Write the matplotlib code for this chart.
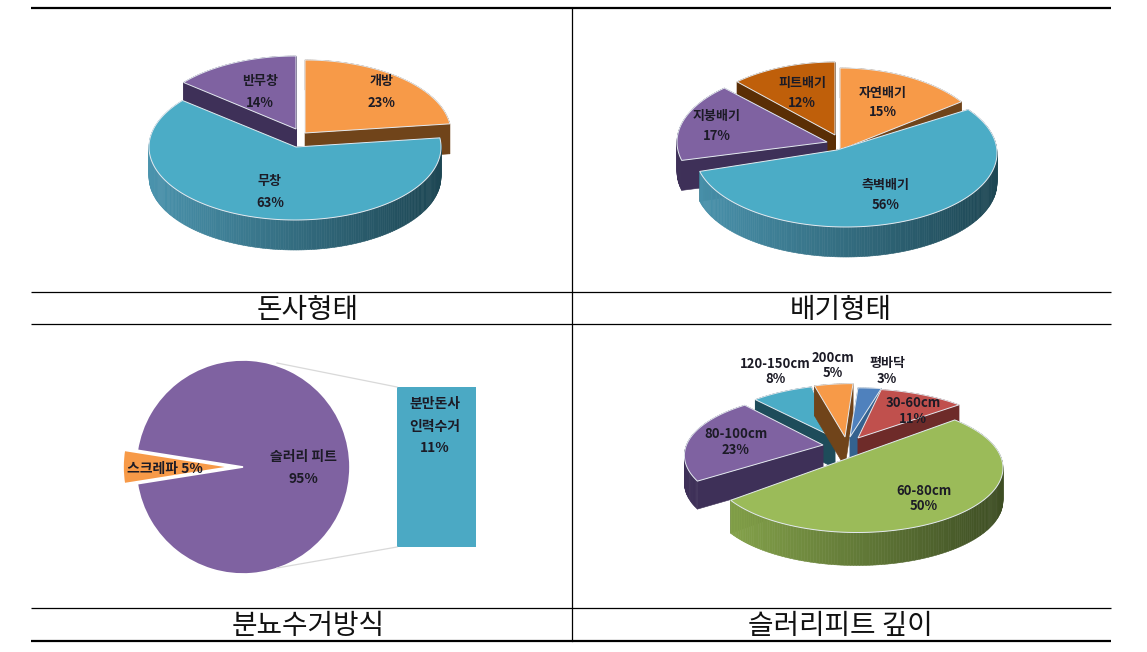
import numpy as np
import matplotlib
matplotlib.use("Agg")
import matplotlib.pyplot as plt
from matplotlib.collections import PolyCollection
from matplotlib.patches import Polygon

plt.rcParams['font.family'] = ['Noto Sans CJK KR', 'DejaVu Sans']

# ---- data ----
housing_labels = ['개방', '무창', '반무창']
housing_values = [23, 63, 14]
exhaust_labels = ['자연배기', '측벽배기', '지붕배기', '피트배기']
exhaust_values = [15, 56, 17, 12]
manure_labels = ['스크레파', '슬러리 피트']
manure_values = [5, 95]
manure_sub_label = ['분만돈사', '인력수거']
manure_sub_value = 11
depth_labels = ['평바닥', '30-60cm', '60-80cm', '80-100cm', '120-150cm', '200cm']
depth_values = [3, 11, 50, 23, 8, 5]
captions = ['돈사형태', '배기형태', '분뇨수거방식', '슬러리피트 깊이']

# ---- styles ----
ORANGE, BLUE, PURPLE, BROWN = '#F79A48', '#4BACC6', '#7F62A1', '#BF5F0A'
GREEN, RED, STEEL = '#9BBB59', '#C0504D', '#4F81BD'
S_ORANGE = ('#70441A', '#70441A', '#70441A')
S_BLUE = ('#1F4C5B', '#4A93AD', '#1D4653')
S_PURPLE = ('#3E3058', '#3E3058', '#3E3058')
S_BROWN = ('#5A2E05', '#5A2E05', '#5A2E05')
S_GREEN = ('#46572A', '#88A74C', '#3E4E24')
S_RED = ('#6E2B29', '#6E2B29', '#6E2B29')
S_STEEL = ('#34628F', '#34628F', '#34628F')
S_TEAL = ('#1E4C5A', '#1E4C5A', '#1E4C5A')
TXT = '#1C1B26'
W, H = 1147, 652

fig = plt.figure(figsize=(W / 100, H / 100), dpi=100, facecolor='white')


def panel(x0, y0, x1, y1):
    ax = fig.add_axes([x0 / W, 1 - y1 / H, (x1 - x0) / W, (y1 - y0) / H])
    ax.set_xlim(x0, x1)
    ax.set_ylim(y1, y0)
    ax.axis('off')
    return ax


def rgb(c):
    return np.array(matplotlib.colors.to_rgb(c))


def slice3d(ax, t0, t1, s):
    """t0 > t1 in degrees, clockwise slice on a projected tilted disk."""
    cx, cy, rx, ry, k, dep = s['c'][0], s['c'][1], s['rx'], s['ry'], s.get('k', 0), s['d']
    th = np.radians(np.linspace(t0, t1, max(8, int(abs(t0 - t1)))))
    w = 1 + k * np.sin(th)
    xs = cx + rx * np.cos(th) / w
    ys = cy - ry * np.sin(th) / w
    ax_, ay_ = s.get('apex', s['c'])
    side_l, side_far = s['side'][1], s['side'][2]
    dark = s['side'][0]
    for px, py in ((xs[0], ys[0]), (xs[-1], ys[-1])):
        ax.add_patch(Polygon([(ax_, ay_), (px, py), (px, py + dep), (ax_, ay_ + dep)],
                             facecolor=dark, edgecolor=dark, lw=0.4, zorder=s['z']))
    quads, cols = [], []
    left, right = cx - rx, cx + rx
    for i in range(len(xs) - 1):
        quads.append([(xs[i], ys[i]), (xs[i + 1], ys[i + 1]),
                      (xs[i + 1], ys[i + 1] + dep), (xs[i], ys[i] + dep)])
        t = np.clip((xs[i] - left) / (right - left), 0, 1)
        cols.append(rgb(side_l) * (1 - t) + rgb(side_far) * t)
    ax.add_collection(PolyCollection(quads, facecolors=cols, edgecolors=cols, lw=0.4, zorder=s['z']))
    ax.add_patch(Polygon(np.vstack([[ax_, ay_], np.column_stack([xs, ys])]),
                         facecolor=s['col'], edgecolor='#E4EAF0', lw=0.7, zorder=s['z'] + 0.5))


def pie3d(ax, values, styles):
    angle = 90.0
    spans = []
    for v in values:
        spans.append((angle, angle - v * 3.6))
        angle -= v * 3.6
    for i in sorted(range(len(values)), key=lambda j: styles[j]['z']):
        slice3d(ax, spans[i][0], spans[i][1], styles[i])


def label(ax, x, y, s, size=9.4):
    ax.text(x, y, s, ha='center', va='center', fontsize=size, fontweight='bold',
            color=TXT, zorder=10)


# ---- table rules ----
tb = panel(0, 0, W, H)
for y, lw in ((8, 1.6), (292, 0.9), (324, 0.9), (608, 0.9), (641, 1.6)):
    tb.plot([31, 1111], [y, y], color='black', lw=lw, solid_capstyle='butt')
tb.plot([572, 572], [8, 641], color='black', lw=0.9)
cap_pos = [(308, 310), (841, 310), (308, 626), (840, 626)]
for (x, y), c in zip(cap_pos, captions):
    tb.text(x, y, c, ha='center', va='center', fontsize=20, color='#111111')

# ---- chart 1 ----
a1 = panel(31, 9, 571, 291)
base = dict(rx=146, ry=73, d=30)
pie3d(a1, housing_values, [
    dict(base, c=(305, 133), col=ORANGE, side=S_ORANGE, z=2),
    dict(base, c=(295, 147), apex=(296, 147), col=BLUE, side=S_BLUE, z=3),
    dict(base, c=(296, 129), col=PURPLE, side=S_PURPLE, z=1),
])
pos1 = [(382, 81, 103), (270, 181, 203), (260, 81, 103)]
for (x, y1, y2), n, v in zip(pos1, housing_labels, housing_values):
    label(a1, x, y1, n)
    label(a1, x, y2, f'{v}%')

# ---- chart 2 ----
a2 = panel(573, 9, 1111, 291)
pie3d(a2, exhaust_values, [
    dict(c=(840, 150), rx=150, ry=82, d=30, col=ORANGE, side=S_ORANGE, z=2),
    dict(c=(846, 153), apex=(837, 150), rx=151, ry=74, d=30, col=BLUE, side=S_BLUE, z=4),
    dict(c=(827, 142), rx=150, ry=74, d=30, col=PURPLE, side=S_PURPLE, z=3),
    dict(c=(835, 135), rx=143, ry=73, d=30, col=BROWN, side=S_BROWN, z=1),
])
pos2 = [(883, 93, 112), (886, 185, 205), (717, 116, 136), (802, 83, 103)]
for (x, y1, y2), n, v in zip(pos2, exhaust_labels, exhaust_values):
    label(a2, x, y1, n)
    label(a2, x, y2, f'{v}%')

# ---- chart 3 ----
a3 = panel(31, 325, 571, 607)
a3.pie(manure_values, colors=[ORANGE, PURPLE], startangle=171, center=(243, 467), radius=107,
       explode=[13, 0], wedgeprops=dict(edgecolor='white', lw=1.2))
a3.set_xlim(31, 571)
a3.set_ylim(607, 325)
a3.set_aspect('auto')
PX_PER_PCT = 160 / 11
a3.bar(436.5, manure_sub_value * PX_PER_PCT, width=79, bottom=387, color='#4BA9C4')
a3.plot([277, 397], [363, 387], color='#D9D9D9', lw=0.9)
a3.plot([277, 397], [568, 547], color='#D9D9D9', lw=0.9)
label(a3, 165, 469, f'{manure_labels[0]} {manure_values[0]}%', 10)
label(a3, 303, 457, manure_labels[1], 10)
label(a3, 303, 479, f'{manure_values[1]}%', 10)
label(a3, 435, 404, manure_sub_label[0], 10)
label(a3, 435, 427, manure_sub_label[1], 10)
label(a3, 435, 448, f'{manure_sub_value}%', 10)

# ---- chart 4 ----
a4 = panel(573, 325, 1111, 607)
b4 = dict(rx=146, k=0.18, d=30)
pie3d(a4, depth_values, [
    dict(b4, c=(858, 437), apex=(850, 437), ry=58, col=STEEL, side=S_STEEL, z=3),
    dict(b4, c=(858, 438), ry=58, col=RED, side=S_RED, z=4),
    dict(b4, c=(857, 455), rx=143, ry=62, k=0.2, d=33, col=GREEN, side=S_GREEN, z=7),
    dict(b4, c=(827, 437), apex=(823, 445), rx=136, ry=56, k=0.3, d=28, col=PURPLE, side=S_PURPLE, z=6),
    dict(b4, c=(850, 438), apex=(835, 438), ry=63, col=BLUE, side=S_TEAL, z=1),
    dict(b4, c=(853, 437), apex=(845, 437), ry=63, col=ORANGE, side=S_ORANGE, z=2),
])
pos4 = [(887, 363, 379), (913, 403, 419), (924, 491, 506), (736, 434, 450), (775, 364, 379), (833, 358, 373)]
for (x, y1, y2), n, v in zip(pos4, depth_labels, depth_values):
    label(a4, x, y1, n)
    label(a4, x, y2, f'{v}%')

fig.savefig('out.png', dpi=100)
